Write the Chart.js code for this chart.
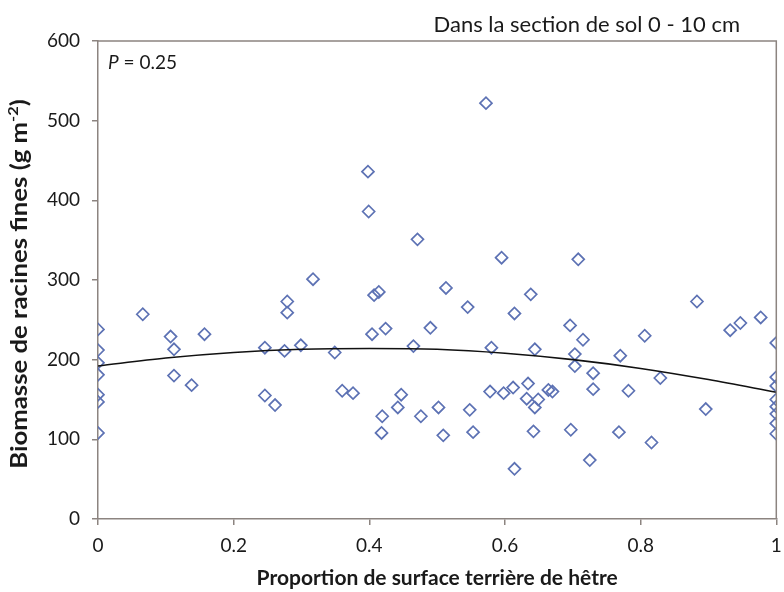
<!DOCTYPE html>
<html>
<head>
<meta charset="utf-8">
<script src="https://cdn.jsdelivr.net/npm/chart.js@4/dist/chart.umd.min.js"></script>
<style>
  html, body { margin: 0; padding: 0; background: #ffffff; }
  #wrap { width: 784px; height: 592px; position: relative; }
</style>
</head>
<body>
<div id="wrap"><canvas id="c" width="784" height="592"></canvas></div>
<script>
// Proportion of beech basal area (x) and fine root biomass (g m-2) (y)
const beechProp = [
  0, 0, 0, 0, 0, 0, 0,
  0.066, 0.107, 0.112, 0.112, 0.138, 0.157,
  0.246, 0.246, 0.261, 0.275, 0.279, 0.279, 0.299, 0.317,
  0.349, 0.360, 0.376, 0.398, 0.399, 0.404, 0.407, 0.414, 0.418, 0.419, 0.424,
  0.442, 0.447, 0.465, 0.471, 0.476, 0.490, 0.502, 0.509, 0.513,
  0.545, 0.548, 0.553, 0.572, 0.578, 0.580, 0.595, 0.598,
  0.612, 0.614, 0.614, 0.632, 0.634, 0.638, 0.642, 0.644, 0.644, 0.649,
  0.664, 0.670, 0.696, 0.697, 0.703, 0.703, 0.708, 0.715, 0.725, 0.730, 0.730,
  0.768, 0.770, 0.782, 0.806, 0.816, 0.829, 0.883, 0.896, 0.932, 0.947, 0.977,
  1, 1, 1, 1, 1, 1, 1, 1
];
const rootBiomass = [
  238, 212, 196, 181, 156, 147, 108,
  257, 229, 213, 180, 168, 232,
  215, 155, 143, 211, 273, 259, 218, 301,
  209, 161, 158, 436, 386, 232, 281, 285, 108, 129, 239,
  140, 156, 217, 351, 129, 240, 140, 105, 290,
  266, 137, 109, 522, 160, 215, 328, 158,
  165, 258, 63, 151, 170, 282, 110, 213, 140, 150,
  162, 160, 243, 112, 207, 192, 326, 225, 74, 183, 163,
  109, 205, 161, 230, 96, 177, 273, 138, 237, 246, 253,
  221, 178, 167, 150, 141, 132, 120, 107
];
// Fitted trend curve
const trendX = [0, 0.1, 0.2, 0.3, 0.4, 0.5, 0.6, 0.7, 0.8, 0.9, 1];
const trendY = [192, 202, 209, 213, 214, 213, 208, 200, 189, 175, 159];

const xTicks = [0, 0.2, 0.4, 0.6, 0.8, 1];
const yTicks = [0, 100, 200, 300, 400, 500, 600];

const subtitle = 'Dans la section de sol 0 - 10 cm';
const xTitle = 'Proportion de surface terrière de hêtre';
const yTitleMain = 'Biomasse de racines fines (g m';
const yTitleSup = '-2';
const yTitleEnd = ')';
const pLabel = 'P';
const pValue = ' = 0.25';

const FONT = 'Lato, "Open Sans", sans-serif';
const AXIS_COLOR = '#8c8480';
const MARK_COLOR = '#5d72b4';
const TEXT_COLOR = '#1a1a1a';

const scatterPts = beechProp.map((x, i) => ({ x: x, y: rootBiomass[i] }));
const trendPts = trendX.map((x, i) => ({ x: x, y: trendY[i] }));

const textPlugin = {
  id: 'texts',
  afterDraw(chart) {
    const ctx = chart.ctx;
    const a = chart.chartArea;
    ctx.save();
    // plot frame (top and right)
    ctx.strokeStyle = AXIS_COLOR;
    ctx.lineWidth = 1.5;
    ctx.beginPath();
    ctx.moveTo(a.left, a.top);
    ctx.lineTo(a.right, a.top);
    ctx.lineTo(a.right, a.bottom);
    ctx.stroke();

    ctx.fillStyle = TEXT_COLOR;
    ctx.textBaseline = 'middle';
    // subtitle
    ctx.font = '22px ' + FONT;
    ctx.textAlign = 'right';
    ctx.fillText(subtitle, 740, 25);
    // P value
    ctx.textAlign = 'left';
    ctx.font = 'italic 19px ' + FONT;
    ctx.fillText(pLabel, 108, 63);
    const pw = ctx.measureText(pLabel).width;
    ctx.font = '19px ' + FONT;
    ctx.fillText(pValue, 108 + pw, 63);
    // x title
    ctx.font = 'bold 21px ' + FONT;
    ctx.textAlign = 'center';
    ctx.fillText(xTitle, (a.left + a.right) / 2, 578);
    // y title with superscript
    ctx.translate(20, 284);
    ctx.rotate(-Math.PI / 2);
    ctx.scale(1.17, 1);
    ctx.textAlign = 'left';
    ctx.font = 'bold 22px ' + FONT;
    const w1 = ctx.measureText(yTitleMain).width;
    const w3 = ctx.measureText(yTitleEnd).width;
    ctx.font = 'bold 14px ' + FONT;
    const w2 = ctx.measureText(yTitleSup).width;
    const x0 = -(w1 + w2 + w3) / 2;
    ctx.font = 'bold 22px ' + FONT;
    ctx.fillText(yTitleMain, x0, 0);
    ctx.font = 'bold 14px ' + FONT;
    ctx.fillText(yTitleSup, x0 + w1, -7);
    ctx.font = 'bold 22px ' + FONT;
    ctx.fillText(yTitleEnd, x0 + w1 + w2, 0);
    ctx.restore();
  }
};

new Chart(document.getElementById('c'), {
  type: 'scatter',
  data: {
    datasets: [
      {
        label: 'Observations',
        data: scatterPts,
        pointStyle: 'rectRot',
        pointRadius: 6,
        pointHoverRadius: 6,
        pointBorderWidth: 1.7,
        pointBorderColor: MARK_COLOR,
        pointBackgroundColor: 'rgba(0,0,0,0)',
        showLine: false,
        order: 2
      },
      {
        label: 'Tendance',
        data: trendPts,
        showLine: true,
        borderColor: '#111111',
        borderWidth: 1.6,
        pointRadius: 0,
        tension: 0.4,
        cubicInterpolationMode: 'monotone',
        fill: false,
        order: 1
      }
    ]
  },
  options: {
    responsive: false,
    animation: false,
    devicePixelRatio: 1,
    layout: { padding: { top: 41, right: 5, bottom: 0, left: 0 } },
    plugins: {
      legend: { display: false },
      tooltip: { enabled: false },
      title: { display: false }
    },
    scales: {
      x: {
        type: 'linear',
        min: 0,
        max: 1,
        afterBuildTicks(scale) { scale.ticks = xTicks.map(v => ({ value: v })); },
        afterFit(scale) {
          scale.height = 73;
          scale.paddingRight = 0;
          scale.paddingLeft = 0;
        },
        ticks: {
          font: { family: FONT, size: 19 },
          color: TEXT_COLOR,
          padding: 9,
          maxRotation: 0,
          callback: (v) => String(v)
        },
        grid: {
          drawOnChartArea: false,
          drawTicks: true,
          tickLength: 6,
          color: AXIS_COLOR,
          lineWidth: 1.5
        },
        border: { color: AXIS_COLOR, width: 1.5 }
      },
      y: {
        type: 'linear',
        min: 0,
        max: 600,
        afterBuildTicks(scale) { scale.ticks = yTicks.map(v => ({ value: v })); },
        afterFit(scale) {
          scale.width = 98;
          scale.paddingTop = 0;
          scale.paddingBottom = 0;
        },
        ticks: {
          font: { family: FONT, size: 19 },
          color: TEXT_COLOR,
          padding: 12,
          callback: (v) => String(v)
        },
        grid: {
          drawOnChartArea: false,
          drawTicks: true,
          tickLength: 6,
          color: AXIS_COLOR,
          lineWidth: 1.5
        },
        border: { color: AXIS_COLOR, width: 1.5 }
      }
    }
  },
  plugins: [textPlugin]
});
</script>
</body>
</html>
